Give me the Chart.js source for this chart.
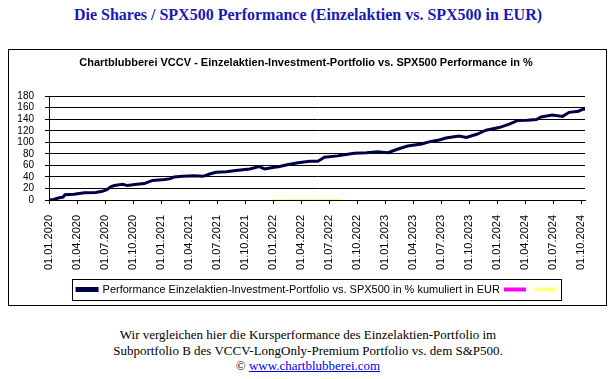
<!DOCTYPE html>
<html>
<head>
<meta charset="utf-8">
<script src="https://cdn.jsdelivr.net/npm/chart.js@4"></script>
<style>
    body { margin: 0; width: 616px; height: 379px; background: #fff; position: relative; overflow: hidden; }
    #pageTitle { position: absolute; top: 6px; left: 0; width: 616px; text-align: center;
        font: bold 16px "Liberation Serif", "Times New Roman", serif; color: #1a1ab4; }
    #chartBox { position: absolute; left: 8px; top: 49px; width: 597px; height: 255px; border: 1px solid #000; }
    #footer { position: absolute; top: 327px; left: 0; width: 616px; text-align: center;
        font: 13px "Liberation Serif", "Times New Roman", serif; line-height: 15.5px; color: #000; }
    #footer a { color: #0000ee; }
</style>
</head>
<body>
<div id="pageTitle">Die Shares / SPX500 Performance (Einzelaktien vs. SPX500 in EUR)</div>
<div id="chartBox"><canvas id="perfChart" width="597" height="255"></canvas></div>
<div id="footer">
    Wir vergleichen hier die Kursperformance des Einzelaktien-Portfolio im<br>
    Subportfolio B des VCCV-LongOnly-Premium Portfolio vs. dem S&amp;P500.<br>
    &copy; <a href="#">www.chartblubberei.com</a>
</div>
<script>
// months since 01.01.2020 and cumulative performance in %
const months = [0, 0.5, 1.1, 1.5, 1.7, 2.7, 3.8, 5.0, 5.7, 6.2, 6.6, 7.0, 7.9, 8.4, 9.2, 10.2, 10.6, 11.1,
    12.4, 13.0, 13.4, 14.3, 15.5, 16.5, 17.2, 17.9, 19.0, 20.0, 21.5, 22.5, 23.1, 23.8, 24.7, 25.5, 26.5,
    27.9, 28.8, 29.5, 30.9, 31.8, 32.7, 34.0, 35.2, 36.3, 37.3, 38.4, 39.9, 40.9, 41.8, 42.5, 43.9, 44.7,
    45.8, 46.8, 48.2, 49.3, 50.2, 51.2, 52.2, 52.7, 53.9, 55.0, 55.7, 56.7, 57.2, 57.4];
const performance = [0, 1, 4, 5, 9, 10, 12.5, 13, 15, 18, 23, 25, 27.4, 25, 27, 28.5, 31, 34,
    35.4, 37, 40, 41, 42, 41, 45, 48, 49, 51, 53.7, 58, 54, 56, 58, 61, 64,
    67, 67, 74, 76.5, 79, 81, 82, 83.5, 82, 88, 93.7, 97, 101.7, 104, 107.5, 111, 108.5,
    114, 121, 125.6, 131.5, 138, 138.5, 139.4, 144, 147.4, 145, 152, 154, 157.7, 156.6];
// yellow series: zero line during 2022
const yellowMonths = [23.9, 31.3];
const yellowValues = [0, 0];
const quarterLabels = ['01.01.2020', '01.04.2020', '01.07.2020', '01.10.2020', '01.01.2021', '01.04.2021',
    '01.07.2021', '01.10.2021', '01.01.2022', '01.04.2022', '01.07.2022', '01.10.2022', '01.01.2023',
    '01.04.2023', '01.07.2023', '01.10.2023', '01.01.2024', '01.04.2024', '01.07.2024', '01.10.2024'];
const legendLabel = 'Performance Einzelaktien-Investment-Portfolio vs. SPX500 in % kumuliert in EUR';

const font = '"Liberation Sans", Arial, sans-serif';

// nudge title and legend to the right, draw a frame around the legend
const legendFrame = {
    id: 'legendFrame',
    afterLayout(chart) {
        chart.legend.left += 22;
        chart.legend.right += 22;
        chart.titleBlock.left += 9;
        chart.titleBlock.right += 9;
    },
    afterDraw(chart) {
        const boxes = chart.legend.legendHitBoxes;
        if (!boxes || !boxes.length) return;
        const first = boxes[0], last = boxes[boxes.length - 1];
        const ctx = chart.ctx;
        ctx.save();
        ctx.strokeStyle = '#000';
        ctx.lineWidth = 1;
        const left = Math.round(first.left - 5) + 0.5;
        const right = Math.round(last.left + last.width) + 0.5;
        const top = Math.round(first.top - 5) + 0.5;
        const bottom = Math.round(first.top + first.height + 5) + 0.5;
        ctx.strokeRect(left, top, right - left, bottom - top);
        ctx.restore();
    }
};

const ctx = document.getElementById('perfChart').getContext('2d');
new Chart(ctx, {
    type: 'line',
    data: {
        datasets: [{
            label: legendLabel,
            data: months.map((m, i) => ({ x: m, y: performance[i] })),
            borderColor: '#000046',
            backgroundColor: '#000080',
            borderWidth: 3,
            pointRadius: 0,
            tension: 0
        }, {
            label: '',
            data: [],
            borderColor: '#ff00ff',
            backgroundColor: '#ff00ff',
            borderWidth: 2,
            pointRadius: 0
        }, {
            label: '',
            data: yellowMonths.map((m, i) => ({ x: m, y: yellowValues[i] })),
            borderColor: '#ffff80',
            backgroundColor: '#ffff80',
            borderWidth: 2,
            pointRadius: 0
        }]
    },
    options: {
        responsive: false,
        animation: false,
        layout: { padding: { left: 0, right: 21, top: 0, bottom: 0 } },
        plugins: {
            title: {
                display: true,
                text: 'Chartblubberei VCCV - Einzelaktien-Investment-Portfolio vs. SPX500 Performance in %',
                color: '#000',
                font: { family: font, size: 11, weight: 'bold' },
                padding: { top: 6, bottom: 27 }
            },
            legend: {
                position: 'bottom',
                labels: {
                    color: '#000',
                    font: { family: font, size: 11 },
                    boxWidth: 20,
                    boxHeight: 2,
                    padding: 5
                }
            },
            tooltip: { enabled: false }
        },
        scales: {
            x: {
                type: 'linear',
                min: 0,
                max: 57.4,
                afterFit: s => { s.height = 79; },
                ticks: {
                    stepSize: 3,
                    includeBounds: false,
                    autoSkip: false,
                    minRotation: 90,
                    maxRotation: 90,
                    padding: 11,
                    color: '#000',
                    font: { family: font, size: 11 },
                    callback: v => quarterLabels[Math.round(v / 3)]
                },
                grid: { drawOnChartArea: false, drawTicks: true, tickLength: 4, color: '#000' },
                border: { color: '#000' }
            },
            y: {
                min: 0,
                max: 180,
                afterFit: s => { s.width = 40; },
                ticks: {
                    stepSize: 20,
                    autoSkip: false,
                    padding: 11,
                    color: '#000',
                    font: { family: font, size: 10 }
                },
                grid: { color: '#000', tickLength: 4 },
                border: { color: '#000' }
            }
        }
    },
    plugins: [legendFrame]
});
</script>
</body>
</html>
